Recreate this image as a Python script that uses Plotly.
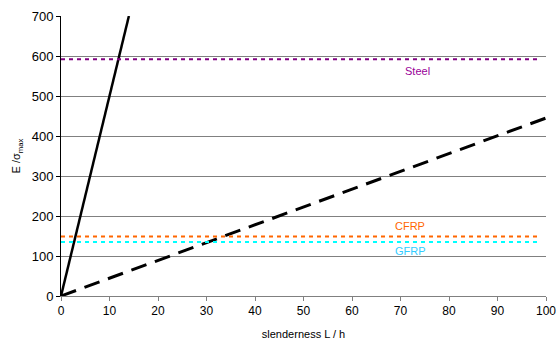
import plotly.graph_objects as go

# Data
slender_x = [0, 100]
solid_slope = 50.0      # E/sigma vs L/h (steep line)
dashed_slope = 4.45     # shallow line
material_names = ["Steel", "CFRP", "GFRP"]
material_values = [592, 149, 135]
material_colors = ["#800080", "#FF6600", "#00FFFF"]
label_colors = ["#990099", "#FF6600", "#33CCFF"]
label_x = [73.5, 72, 72]
label_y = [562, 175, 112]
line_x_end = 98.5
x_ticks = [0, 10, 20, 30, 40, 50, 60, 70, 80, 90, 100]
y_ticks = [0, 100, 200, 300, 400, 500, 600, 700]

fig = go.Figure()

solid_x = [0, 700 / solid_slope]
fig.add_trace(go.Scatter(x=solid_x, y=[solid_slope * v for v in solid_x], mode="lines",
                         line=dict(color="black", width=2.5), showlegend=False))
fig.add_trace(go.Scatter(x=slender_x, y=[dashed_slope * v for v in slender_x], mode="lines",
                         line=dict(color="black", width=3, dash="16px,9px"), showlegend=False))
for name, val, col in zip(material_names, material_values, material_colors):
    fig.add_trace(go.Scatter(x=[0, line_x_end], y=[val, val], mode="lines",
                             line=dict(color=col, width=2, dash="4px,4px"), showlegend=False))
for name, lx, ly, col in zip(material_names, label_x, label_y, label_colors):
    fig.add_annotation(x=lx, y=ly, text=name, showarrow=False,
                       font=dict(family="Liberation Sans, Arial", size=11, color=col))

fig.update_layout(
    width=558, height=342,
    margin=dict(l=61, r=12, t=16, b=46, autoexpand=False),
    paper_bgcolor="white", plot_bgcolor="white",
    font=dict(family="Liberation Sans, Arial", size=12, color="black"),
    xaxis=dict(range=[0, 100], tickvals=x_ticks, showgrid=False, zeroline=False,
               showline=True, linecolor="#808080", linewidth=1, ticks="outside",
               ticklen=4, tickcolor="#808080", automargin=False,
               tickfont=dict(size=12),
               title=dict(text="slenderness L / h", font=dict(size=11), standoff=12)),
    yaxis=dict(range=[0, 700], tickvals=y_ticks, showgrid=True, gridcolor="#808080",
               gridwidth=1, zeroline=False, showline=True, linecolor="black", linewidth=1,
               ticks="outside", ticklen=4, tickcolor="black", automargin=False,
               tickfont=dict(size=13),
               title=dict(text="E /σ<sub>max</sub>", font=dict(size=11), standoff=8)),
)

fig.write_html("out.html", config={"displayModeBar": False},
               post_script="document.body.style.margin='0';document.body.style.padding='0';")
